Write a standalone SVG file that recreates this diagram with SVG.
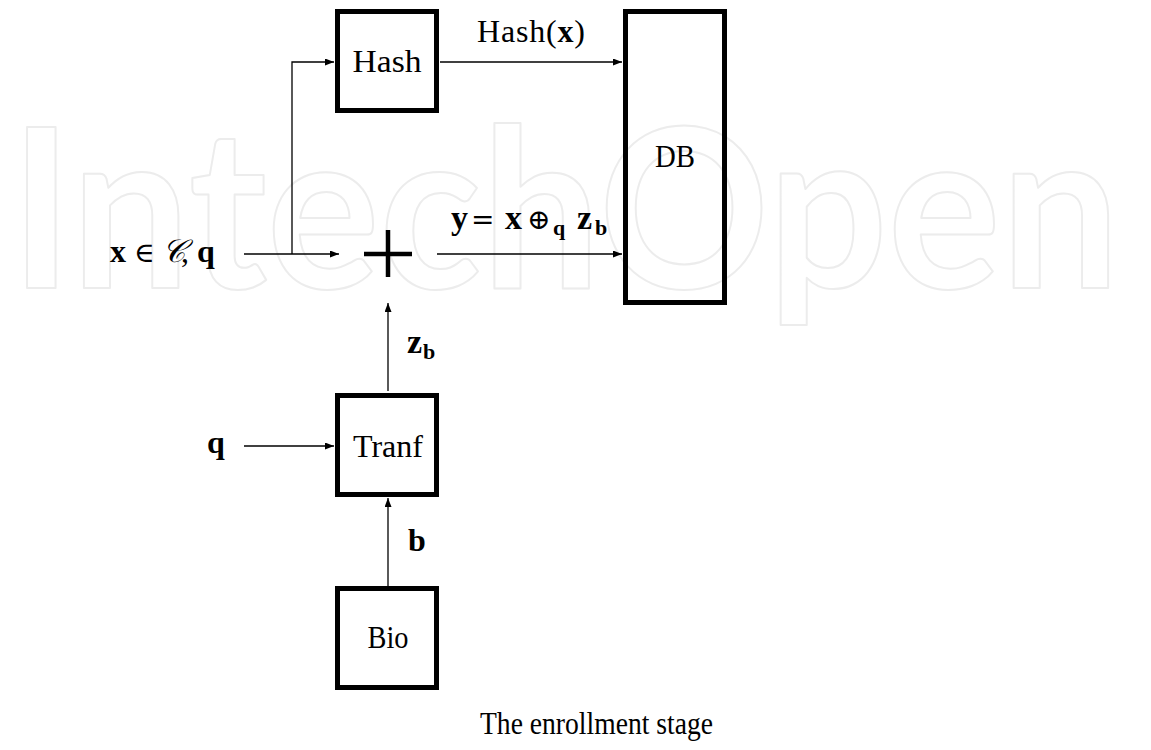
<svg xmlns="http://www.w3.org/2000/svg" width="1151" height="750" viewBox="0 0 1151 750">
<defs>
<style>
.wm{font-family:Lato,Inter,"Open Sans",sans-serif;font-weight:700;font-size:222px;fill:none;stroke:#ececec;stroke-width:2;stroke-linejoin:round}
.box{fill:none;stroke:#000;stroke-width:5}
.lbl{font-family:"Liberation Serif","DejaVu Serif",serif;font-size:32px;fill:#000}
.b{font-weight:bold}
.m{font-family:"DejaVu Serif","DejaVu Sans",serif;font-size:28px}
.sub{font-size:22px;font-weight:bold}
.conn{fill:none;stroke:#000;stroke-width:1.3}
.plus{stroke:#000;stroke-width:4.5}
</style>
<marker id="ah" markerWidth="10" markerHeight="8" refX="9" refY="3.5" orient="auto" markerUnits="userSpaceOnUse">
<path d="M0,0 L9,3.5 L0,7 z" fill="#000"/>
</marker>
</defs>
<rect width="1151" height="750" fill="#fff"/>
<text class="wm" x="10" y="288" textLength="1110" lengthAdjust="spacingAndGlyphs">IntechOpen</text>

<g id="connectors">
<path class="conn" d="M244,254 L339,254" marker-end="url(#ah)"/>
<path class="conn" d="M292,254 L292,62 L334,62" marker-end="url(#ah)"/>
<path class="conn" d="M440,62 L622,62" marker-end="url(#ah)"/>
<path class="conn" d="M437,254 L622,254" marker-end="url(#ah)"/>
<path class="conn" d="M388,391 L388,303" marker-end="url(#ah)"/>
<path class="conn" d="M244,446 L334,446" marker-end="url(#ah)"/>
<path class="conn" d="M388,586 L388,498" marker-end="url(#ah)"/>
</g>

<g id="hash">
<rect class="box" x="337.5" y="11.5" width="99" height="99"/>
<text class="lbl" x="387" y="72" text-anchor="middle" textLength="69" lengthAdjust="spacingAndGlyphs">Hash</text>
</g>
<g id="db">
<rect class="box" x="625.5" y="11.5" width="99" height="291"/>
<text class="lbl" x="675" y="167" text-anchor="middle" textLength="40" lengthAdjust="spacingAndGlyphs">DB</text>
</g>
<g id="plus">
<line class="plus" x1="364" y1="254" x2="412" y2="254"/>
<line class="plus" x1="388" y1="230" x2="388" y2="277"/>
</g>
<g id="tranf">
<rect class="box" x="337.5" y="395.5" width="99" height="99"/>
<text class="lbl" x="388" y="457" text-anchor="middle" textLength="70" lengthAdjust="spacingAndGlyphs">Tranf</text>
</g>
<g id="bio">
<rect class="box" x="337.5" y="588.5" width="99" height="99"/>
<text class="lbl" x="388" y="648" text-anchor="middle" textLength="41" lengthAdjust="spacingAndGlyphs">Bio</text>
</g>

<g id="labels">
<text class="lbl" x="477" y="42" textLength="108" lengthAdjust="spacing">Hash(<tspan class="b">x</tspan>)</text>
<text class="lbl" y="229"><tspan class="b" x="451" font-size="34">y</tspan><tspan class="m" x="471" font-size="30">=</tspan><tspan class="b" x="505" font-size="34">x</tspan><tspan class="m" x="527">⊕</tspan><tspan class="sub" x="553" dy="6">q</tspan><tspan class="b" x="577" dy="-6" font-size="34">z</tspan><tspan class="sub" x="595" dy="6">b</tspan></text>
<text class="lbl" y="262"><tspan class="b" x="110">x</tspan><tspan class="m" x="134">∈</tspan><tspan x="162" font-style="italic">𝒞</tspan><tspan x="181">,</tspan><tspan class="b" x="197">q</tspan></text>
<text class="lbl" y="353"><tspan class="b" x="407" font-size="34">z</tspan><tspan class="sub" x="423" dy="6">b</tspan></text>
<text class="lbl b" x="207" y="453">q</text>
<text class="lbl b" x="408" y="551">b</text>
<text class="lbl" x="480" y="734" textLength="233" lengthAdjust="spacingAndGlyphs">The enrollment stage</text>
</g>
</svg>
